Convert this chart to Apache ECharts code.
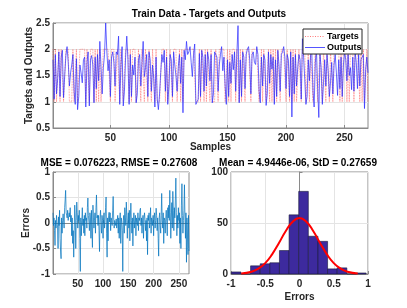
<!DOCTYPE html>
<html>
<head>
<meta charset="utf-8">
<script src="https://cdn.jsdelivr.net/npm/echarts@6/dist/echarts.min.js"></script>
<style>
html,body{margin:0;padding:0;background:#fff;}
#chart{width:407px;height:308px;}
</style>
</head>
<body>
<div id="chart"></div>
<script>
// ---- data ----
const targets = [
 2,1,2,1,1,2,1,2,2,1, 1,2,2,2,1,1,1,2,1,1, 2,1,1,2,2,2,2,2,1,2, 2,1,2,2,2,1,2,1,2,1,
 2,1,1,2,2,2,2,2,2,1, 2,2,2,1,1,2,2,1,2,2, 1,1,2,2,2,1,2,1,2,2, 2,1,1,2,2,1,2,2,1,2,
 2,1,2,2,1,2,2,1,2,1, 1,1,1,2,2,2,1,2,1,1, 2,2,1,2,2,2,1,1,2,1, 2,1,2,2,2,2,2,2,2,2,
 2,2,1,1,1,2,1,2,2,1, 2,1,2,2,1,2,1,1,1,2, 2,1,2,2,2,2,2,1,1,2, 1,2,1,2,2,2,1,2,2,1,
 2,1,2,2,1,2,2,2,2,1, 2,2,2,2,2,2,1,1,2,1, 2,2,1,1,2,1,2,1,2,1, 2,1,2,2,1,2,2,2,2,1,
 2,2,1,2,1,2,1,2,1,1, 2,2,1,2,2,2,1,1,2,1, 2,2,1,1,2,2,1,1,2,2, 1,2,2,1,2,2,1,2,2,1,
 2,2,2,2,2,1,2,1,2,2, 2,1,2,1,2,2,2,1,2,2, 2,2,1,2,1,2,1,1,2,1
];
const errors = [
 0.20,-0.05,0.10,-0.15,-0.44,0.05,-0.10,0.15,0.02,-0.08,
 -0.50,0.12,-0.05,0.25,-0.30,-0.55,-0.70,0.10,-0.20,0.05,
 0.18,0.15,-0.10,0.30,0.45,0.64,0.20,0.15,0.10,0.25,
 0.05,0.08,0.20,0.12,0.30,0.02,0.15,-0.25,0.10,-0.40,
 -0.15,-0.67,-0.15,0.35,0.10,-0.50,0.05,0.41,0.20,-0.10,
 0.15,0.05,0.25,-0.30,-0.95,0.10,-0.25,0.05,0.30,-0.05,
 0.08,-0.20,0.15,-0.25,0.20,0.05,0.10,-0.10,0.30,0.49,
 0.15,0.02,-0.15,0.20,0.10,-0.30,0.25,-0.15,-0.48,0.35,
 0.10,-0.10,0.05,0.20,-0.20,0.30,0.55,0.10,0.15,-0.05,
 0.15,-0.15,-0.56,0.10,0.25,0.02,-0.20,0.15,0.05,-0.30,
 0.10,0.20,-0.10,0.05,0.30,0.51,-0.20,-0.67,0.10,-0.35,
 0.15,0.21,0.02,0.20,-0.15,0.10,0.05,-0.05,0.25,0.52,
 0.10,-0.10,0.05,0.00,-0.05,0.08,-0.10,0.02,0.15,-0.20,
 0.10,-0.30,0.05,0.20,-0.40,0.10,0.02,-0.15,-0.95,0.05,
 0.15,-0.20,0.30,0.10,-0.05,0.41,0.15,-0.30,0.05,0.20,
 -0.10,0.25,-0.35,0.10,0.39,0.05,-0.20,0.10,-0.45,0.02,
 0.20,-0.10,0.05,0.15,-0.25,0.10,0.00,-0.05,0.20,-0.15,
 0.10,0.05,0.25,0.29,-0.05,0.10,-0.20,0.02,0.15,-0.30,
 0.10,0.20,0.07,-0.15,0.05,-0.35,0.10,-0.62,0.15,0.05,
 0.20,-0.10,0.02,0.30,-0.20,0.10,0.05,-0.05,0.15,-0.25,
 0.10,0.20,-0.10,0.05,0.29,0.15,-0.15,0.10,-0.30,-0.65,
 0.10,0.20,-0.05,-0.20,0.15,0.58,0.05,-0.10,0.20,-0.40,
 0.10,0.05,-0.20,0.10,0.25,0.02,-0.25,0.30,0.10,0.35,
 0.05,0.64,0.20,-0.30,0.10,0.40,-0.10,0.62,0.25,-0.15,
 0.30,0.10,0.45,0.88,0.20,-0.25,0.15,-0.10,0.30,0.05,
 0.20,-0.40,0.10,-0.50,0.35,0.77,0.15,-0.20,0.05,0.25,
 0.75,0.10,-0.30,0.20,-0.77,0.10,0.13,-0.62,0.15,-0.55
];
const sampleTicks = [50,100,150,200,250];
const binEdges = [-0.995,-0.8545,-0.714,-0.5735,-0.433,-0.2925,-0.152,-0.0115,0.129,0.2695,0.41,0.5505,0.691,0.8315,0.972];
const binCounts = [2,0,8,10,11,23,58,81,37,32,5,6,0,1];
const fitX = [-0.85,-0.7,-0.6,-0.5,-0.4,-0.3,-0.2,-0.1,0,0.1,0.2,0.3,0.4,0.5,0.6,0.7,0.85];
const fitY = [0.5,2.2,5.2,10.7,19.3,30.4,42.2,51.3,54.8,51.3,42.2,30.4,19.3,10.7,5.2,2.2,0.5];
const titleTop = 'Train Data - Targets and Outputs';
const titleMSE = 'MSE = 0.076223, RMSE = 0.27608';
const titleHist = 'Mean = 4.9446e-06, StD = 0.27659';

// ---- build series data ----
const samples = targets.map((_, i) => i + 1);
const outputs = targets.map((t, i) => +(t - errors[i]).toFixed(3));
const tgtData = samples.map((s, i) => [s, targets[i]]);
const outData = samples.map((s, i) => [s, outputs[i]]);
const errData = samples.map((s, i) => [s, errors[i]]);
const histData = binCounts.map((c, i) => [binEdges[i], binEdges[i + 1], c]);
const fitData = fitX.map((x, i) => [x, fitY[i]]);

const FONT = 'Liberation Sans, Arial, Helvetica, sans-serif';
const txt = '#262626';
const gridLine = { show: true, lineStyle: { color: '#e4e4e4', width: 1 } };
const axLine = { show: true, lineStyle: { color: '#8a8a8a', width: 1 } };
const axTick = { show: true, inside: true, length: 3, lineStyle: { color: '#8a8a8a' } };
const lab = { color: txt, fontFamily: FONT, fontSize: 10, fontWeight: 'bold' };
const nameStyle = { color: txt, fontFamily: FONT, fontSize: 10, fontWeight: 'bold' };
const titleStyle = { fontFamily: FONT, fontSize: 10, fontWeight: 'bold', color: '#000' };

const chart = echarts.init(document.getElementById('chart'), null, { renderer: 'canvas' });
chart.setOption({
  animation: false,
  backgroundColor: '#ffffff',
  title: [
    { text: titleTop, left: 209, top: 9, padding: 0, textAlign: 'center', textStyle: titleStyle },
    { text: titleMSE, left: 119, top: 158, padding: 0, textAlign: 'center', textStyle: titleStyle },
    { text: titleHist, left: 298, top: 158, padding: 0, textAlign: 'center', textStyle: titleStyle }
  ],
  grid: [
    { left: 53, top: 23, width: 315, height: 105, show: true, borderColor: '#8a8a8a', borderWidth: 1, backgroundColor: '#fff' },
    { left: 53, top: 172, width: 136, height: 102, show: true, borderColor: '#8a8a8a', borderWidth: 1, backgroundColor: '#fff' },
    { left: 231, top: 172, width: 137, height: 102, show: true, borderColor: '#8a8a8a', borderWidth: 1, backgroundColor: '#fff' }
  ],
  xAxis: [
    { type: 'value', gridIndex: 0, min: 1, max: 270, axisLine: axLine,
      axisTick: Object.assign({ customValues: sampleTicks }, axTick), splitLine: gridLine,
      axisLabel: Object.assign({ customValues: sampleTicks, margin: 5 }, lab),
      name: 'Samples', nameLocation: 'middle', nameGap: 14, nameMoveOverlap: false, nameTextStyle: nameStyle },
    { type: 'value', gridIndex: 1, min: 1, max: 270, axisLine: axLine,
      axisTick: Object.assign({ customValues: sampleTicks }, axTick), splitLine: gridLine,
      axisLabel: Object.assign({ customValues: sampleTicks, margin: 5 }, lab) },
    { type: 'value', gridIndex: 2, min: -1, max: 1, interval: 0.5, axisLine: axLine, axisTick: axTick, splitLine: gridLine,
      axisLabel: Object.assign({ margin: 5 }, lab),
      name: 'Errors', nameLocation: 'middle', nameGap: 18, nameMoveOverlap: false, nameTextStyle: nameStyle }
  ],
  yAxis: [
    { type: 'value', gridIndex: 0, min: 0.5, max: 2.5, interval: 0.5, axisLine: axLine, axisTick: axTick, splitLine: gridLine,
      axisLabel: Object.assign({ margin: 3 }, lab),
      name: 'Targets and Outputs', nameLocation: 'middle', nameGap: 19, nameMoveOverlap: false, nameTextStyle: nameStyle },
    { type: 'value', gridIndex: 1, min: -1, max: 1, interval: 0.5, axisLine: axLine, axisTick: axTick, splitLine: gridLine,
      axisLabel: Object.assign({ margin: 3 }, lab),
      name: 'Errors', nameLocation: 'middle', nameGap: 22, nameMoveOverlap: false, nameTextStyle: nameStyle },
    { type: 'value', gridIndex: 2, min: 0, max: 100, interval: 50, axisLine: axLine, axisTick: axTick, splitLine: gridLine,
      axisLabel: Object.assign({ margin: 3 }, lab) }
  ],
  series: [
    { name: 'Targets', type: 'line', xAxisIndex: 0, yAxisIndex: 0, data: tgtData, showSymbol: false,
      lineStyle: { color: '#ff4040', width: 0.8, type: 'dotted', opacity: 0.7 } },
    { name: 'Outputs', type: 'line', xAxisIndex: 0, yAxisIndex: 0, data: outData, showSymbol: false,
      lineStyle: { color: '#2a2aff', width: 0.7 } },
    { name: 'Errors', type: 'line', xAxisIndex: 1, yAxisIndex: 1, data: errData, showSymbol: false,
      lineStyle: { color: '#0072bd', width: 0.7 } },
    { name: 'Histogram', type: 'custom', xAxisIndex: 2, yAxisIndex: 2, data: histData,
      encode: { x: [0, 1], y: 2 },
      renderItem: function (params, api) {
        const a = api.coord([api.value(0), api.value(2)]);
        const b = api.coord([api.value(1), 0]);
        return { type: 'rect', shape: { x: a[0], y: a[1], width: b[0] - a[0], height: b[1] - a[1] },
          style: { fill: '#3d2a9e', stroke: '#1a1a3a', lineWidth: 0.6 } };
      } },
    { name: 'Fit', type: 'line', xAxisIndex: 2, yAxisIndex: 2, data: fitData, showSymbol: false, smooth: true,
      lineStyle: { color: '#ff0000', width: 2 } }
  ],
  graphic: [
    { type: 'rect', shape: { x: 303, y: 29, width: 59, height: 25 }, style: { fill: '#fff', stroke: '#262626', lineWidth: 1 }, z: 100 },
    { type: 'line', shape: { x1: 305, y1: 36.5, x2: 325, y2: 36.5 }, style: { stroke: '#ff4040', lineWidth: 1, lineDash: [1, 1.5], opacity: 0.7 }, z: 101 },
    { type: 'line', shape: { x1: 305, y1: 47.5, x2: 325, y2: 47.5 }, style: { stroke: '#2a2aff', lineWidth: 0.8 }, z: 101 },
    { type: 'text', x: 327, y: 36.5, style: { text: 'Targets', fill: '#000', font: 'bold 9px ' + FONT, verticalAlign: 'middle' }, z: 101 },
    { type: 'text', x: 327, y: 47.5, style: { text: 'Outputs', fill: '#000', font: 'bold 9px ' + FONT, verticalAlign: 'middle' }, z: 101 }
  ]
});
</script>
</body>
</html>
